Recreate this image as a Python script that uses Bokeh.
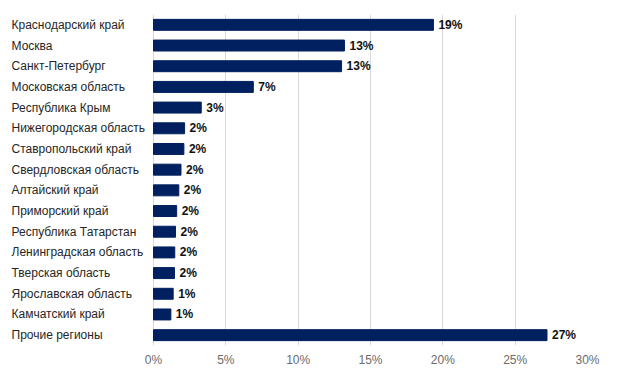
from bokeh.plotting import figure
from bokeh.models import ColumnDataSource, LabelSet, FactorRange, Range1d, FixedTicker, CustomJSTickFormatter
from bokeh.core.properties import value
from bokeh.embed import file_html
from bokeh.resources import INLINE

regions = ["Краснодарский край", "Москва", "Санкт-Петербург", "Московская область",
           "Республика Крым", "Нижегородская область", "Ставропольский край",
           "Свердловская область", "Алтайский край", "Приморский край",
           "Республика Татарстан", "Ленинградская область", "Тверская область",
           "Ярославская область", "Камчатский край", "Прочие регионы"]
shares = [19.35, 13.2, 13.0, 6.9, 3.3, 2.15, 2.1, 1.9, 1.75, 1.6, 1.52, 1.47, 1.45, 1.36, 1.2, 27.2]
share_labels = ["19%", "13%", "13%", "7%", "3%", "2%", "2%", "2%", "2%", "2%", "2%", "2%", "2%", "1%", "1%", "27%"]
x_ticks = [0, 5, 10, 15, 20, 25, 30]

FONT = "Liberation Sans"

# the frame spans the whole width; the category-label column occupies 153 of 587 px left of 0%
label_px, bars_px = 153, 434
x_max = x_ticks[-1]
x_min = -x_max * label_px / bars_px

src = ColumnDataSource(dict(region=regions, share=shares, label=share_labels))

p = figure(width=627, height=378, output_backend="svg", toolbar_location=None,
           y_range=FactorRange(factors=list(reversed(regions)), range_padding=0),
           x_range=Range1d(x_min, x_max),
           min_border_left=0, min_border_right=40, min_border_top=14, min_border_bottom=33)
p.outline_line_color = None
p.background_fill_color = "white"
p.border_fill_color = "white"

p.hbar(y="region", right="share", left=0, height=0.53, source=src,
       fill_color="#002060", line_color="#002060")

# value labels
p.add_layout(LabelSet(x="share", y="region", text="label", source=src,
                      x_offset=5, text_font=value(FONT), text_font_size=value("12px"),
                      text_font_style=value("bold"), text_color=value("#111111"),
                      text_baseline=value("middle"), text_align=value("left")))

# category labels, left aligned
p.add_layout(LabelSet(x=11, x_units="screen", y="region", text="region", source=src,
                      text_font=value(FONT), text_font_size=value("12px"), text_color=value("#262626"),
                      text_baseline=value("middle"), text_align=value("left")))

p.yaxis.visible = False
p.ygrid.grid_line_color = None
p.xgrid.ticker = FixedTicker(ticks=x_ticks)
p.xgrid.grid_line_color = "#d9d9d9"
p.xgrid.grid_line_width = 1

p.xaxis.ticker = FixedTicker(ticks=x_ticks)
p.xaxis.formatter = CustomJSTickFormatter(code="return tick + '%';")
p.xaxis.axis_line_color = None
p.xaxis.major_tick_line_color = None
p.xaxis.minor_tick_line_color = None
p.xaxis.major_label_text_font = FONT
p.xaxis.major_label_text_font_size = "12px"
p.xaxis.major_label_text_color = "#6b6b6b"
p.xaxis.major_label_standoff = 1

open("out.html", "w").write(file_html(p, INLINE))
